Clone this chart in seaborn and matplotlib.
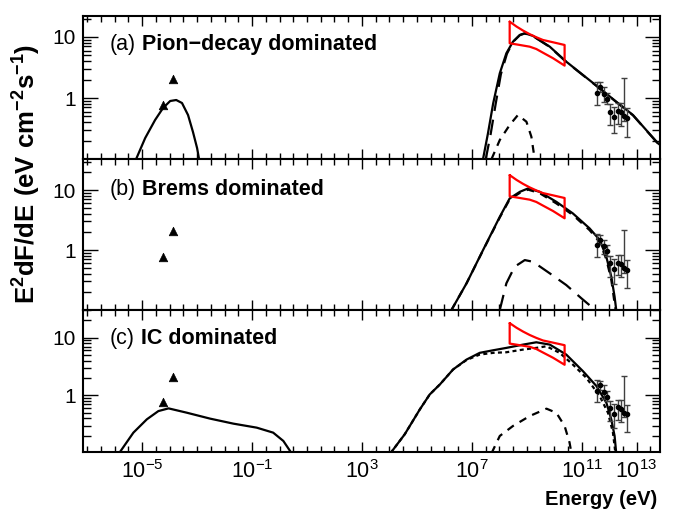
import numpy as np
import pandas as pd
import matplotlib
matplotlib.use("Agg")
import matplotlib.pyplot as plt
import matplotlib.ticker as mticker
import seaborn as sns

# values: log10(E/eV) and E^2 dF/dE (eV cm^-2 s^-1)

# radio points (triangles), same in every panel
radio_logE = [-4.23, -3.86]
radio_F = [0.77, 2.05]

# Fermi-LAT bowtie
lat_up_logE = [8.38, 8.63, 8.87, 9.11, 9.35, 9.59, 9.96, 10.38]
lat_up_F = [17.8, 14.8, 12.7, 11.1, 9.89, 8.93, 8.18, 7.39]
lat_lo_logE = [8.38, 8.75, 9.11, 9.35, 9.59, 9.96, 10.38]
lat_lo_F = [7.88, 7.39, 6.93, 6.35, 5.53, 4.48, 3.39]

# TeV points with error bars
tev_logE = [11.57, 11.68, 11.81, 11.93, 12.04, 12.17, 12.32, 12.42, 12.54, 12.66]
tev_F = [1.2, 1.5, 1.15, 0.95, 0.6, 0.48, 0.62, 0.58, 0.5, 0.47]
tev_lo = [0.78, 1.25, 0.87, 0.8, 0.36, 0.27, 0.38, 0.35, 0.42, 0.23]
tev_hi = [1.85, 1.8, 1.5, 1.2, 0.8, 0.72, 0.82, 0.82, 2.15, 0.68]

# (a) pion-decay dominated
sync_a_logE = [-5.22, -4.89, -4.53, -4.24, -3.98, -3.76, -3.55, -3.33, -3.15, -3.00, -2.93]
sync_a_F = [0.1, 0.221, 0.436, 0.686, 0.893, 0.927, 0.828, 0.526, 0.277, 0.151, 0.1]
tot_a_logE = [7.41, 7.59, 7.78, 8.02, 8.26, 8.50, 8.75, 8.93, 9.23, 9.84, 10.44, 11.05,
              11.66, 12.26, 12.87, 13.35, 13.78, 13.9]
tot_a_F = [0.1, 0.264, 0.819, 2.54, 5.41, 8.37, 10.8, 11.5, 10.4, 6.93, 3.94, 2.38,
           1.44, 0.87, 0.526, 0.299, 0.181, 0.165]
pion_a_logE = [7.51, 7.69, 7.87, 8.06, 8.28, 8.50, 8.75, 8.93, 9.23, 9.84, 10.44, 11.05,
               11.66, 12.26, 12.87, 13.35, 13.78, 13.9]
pion_a_F = [0.1, 0.26, 0.8, 2.45, 5.3, 8.3, 10.7, 11.4, 10.3, 6.85, 3.9, 2.36,
            1.43, 0.86, 0.52, 0.296, 0.179, 0.16]
brems_a_logE = [7.72, 8.02, 8.38, 8.68, 8.99, 9.17, 9.29]
brems_a_F = [0.1, 0.205, 0.361, 0.526, 0.409, 0.232, 0.1]

# (b) bremsstrahlung dominated
tot_b_logE = [6.26, 6.81, 7.41, 8.02, 8.38, 8.75, 9.05, 9.47, 10.08, 10.68, 11.29, 11.66,
              11.90, 12.08, 12.20, 12.26]
tot_b_F = [0.1, 0.279, 1.0, 3.59, 7.27, 9.37, 10.67, 9.37, 6.38, 4.09, 2.30, 1.47,
           0.77, 0.36, 0.167, 0.1]
brems_b_logE = [6.26, 6.81, 7.41, 8.02, 8.38, 8.75, 9.05, 9.47, 10.08, 10.68, 11.29, 11.66,
                11.90, 12.08, 12.18, 12.24]
brems_b_F = [0.1, 0.279, 0.99, 3.5, 7.0, 9.0, 10.2, 8.9, 6.0, 3.85, 2.15, 1.35,
             0.70, 0.32, 0.15, 0.1]
pion_b_logE = [8.02, 8.26, 8.56, 8.93, 9.23, 9.84, 10.44, 10.99, 11.35, 11.45]
pion_b_F = [0.1, 0.279, 0.527, 0.681, 0.638, 0.409, 0.261, 0.157, 0.114, 0.1]

# (c) IC dominated
sync_c_logE = [-5.84, -5.32, -4.83, -4.41, -4.04, -3.38, -2.53, -1.68, -0.83, -0.23, 0.14, 0.44]
sync_c_F = [0.1, 0.227, 0.386, 0.536, 0.597, 0.503, 0.397, 0.325, 0.277, 0.227, 0.163, 0.1]
tot_c_logE = [4.04, 4.56, 5.11, 5.47, 5.84, 6.32, 6.81, 7.29, 7.78, 8.26, 8.87, 9.35, 9.84,
              10.44, 11.05, 11.54, 11.90, 12.08, 12.20, 12.26]
tot_c_F = [0.1, 0.213, 0.574, 1.04, 1.55, 2.81, 4.17, 5.45, 6.04, 6.64, 7.57, 8.3, 7.57,
           5.09, 2.62, 1.45, 0.75, 0.386, 0.199, 0.1]
ic_c_logE = [4.04, 4.56, 5.11, 5.47, 5.84, 6.32, 6.81, 7.29, 7.78, 8.26, 8.87, 9.35, 9.72,
             10.2, 10.68, 11.17, 11.66, 11.96, 12.14, 12.23]
ic_c_F = [0.1, 0.213, 0.574, 1.04, 1.55, 2.81, 4.1, 5.09, 5.45, 5.58, 6.21, 6.64, 7.08,
          5.45, 3.42, 2.02, 0.97, 0.50, 0.227, 0.1]
brems_c_logE = [7.72, 8.02, 8.50, 9.11, 9.72, 10.08, 10.38, 10.56, 10.63]
brems_c_F = [0.1, 0.199, 0.296, 0.44, 0.59, 0.50, 0.296, 0.153, 0.1]

panel_labels = ["(a)", "(b)", "(c)"]
panel_titles = ["Pion\u2212decay dominated", "Brems dominated", "IC dominated"]
xtick_exp = [-5, -1, 3, 7, 11, 13]

sns.set_theme(style="ticks")
plt.rcParams['font.family'] = ['Liberation Sans', 'DejaVu Sans']
plt.rcParams['mathtext.fontset'] = 'custom'
plt.rcParams['mathtext.rm'] = 'Liberation Sans'
plt.rcParams['mathtext.bf'] = 'Liberation Sans:bold'
plt.rcParams['mathtext.default'] = 'regular'
plt.rcParams['text.color'] = 'black'
plt.rcParams['axes.labelcolor'] = 'black'

LONG = (0, (7, 4))
SHORT = (0, (3.5, 3))
DOT = (0, (1.8, 1.5))


def curve(ax, logE, F, ls="-"):
    df = pd.DataFrame({"E": 10.0 ** np.array(logE), "F": F})
    sns.lineplot(data=df, x="E", y="F", ax=ax, color="black", lw=1.6,
                 linestyle=ls, sort=False, estimator=None)


def common(ax):
    up = pd.DataFrame({"E": 10.0 ** np.array(lat_up_logE), "F": lat_up_F})
    lo = pd.DataFrame({"E": 10.0 ** np.array(lat_lo_logE), "F": lat_lo_F})
    bx = np.concatenate([up["E"], lo["E"][::-1], up["E"][:1]])
    by = np.concatenate([up["F"], lo["F"][::-1], up["F"][:1]])
    ax.plot(bx, by, color="red", lw=1.6, zorder=4)

    rad = pd.DataFrame({"E": 10.0 ** np.array(radio_logE), "F": radio_F})
    sns.scatterplot(data=rad, x="E", y="F", ax=ax, marker="^", color="black",
                    s=38, edgecolor="black", zorder=5)

    tE = 10.0 ** np.array(tev_logE)
    tF = np.array(tev_F)
    err = [tF - np.array(tev_lo), np.array(tev_hi) - tF]
    ax.errorbar(tE, tF, yerr=err, fmt="o", ms=3, color="black", ecolor="0.25",
                elinewidth=1, capsize=2, capthick=1, zorder=5)


fig = plt.figure(figsize=(6.83, 5.18), dpi=100)
gs = fig.add_gridspec(3, 1, height_ratios=[143, 151, 142], left=0.1215, right=0.966,
                      top=0.969, bottom=0.1274, hspace=0)
axes = [fig.add_subplot(gs[i]) for i in range(3)]
ylims = [(0.1, 22), (0.1, 33), (0.105, 30)]

for i, ax in enumerate(axes):
    ax.set_xscale("log")
    ax.set_yscale("log")

curve(axes[0], sync_a_logE, sync_a_F)
curve(axes[0], pion_a_logE, pion_a_F, LONG)
curve(axes[0], tot_a_logE, tot_a_F)
curve(axes[0], brems_a_logE, brems_a_F, SHORT)

curve(axes[1], tot_b_logE, tot_b_F)
curve(axes[1], brems_b_logE, brems_b_F, SHORT)
curve(axes[1], pion_b_logE, pion_b_F, LONG)

curve(axes[2], sync_c_logE, sync_c_F)
curve(axes[2], tot_c_logE, tot_c_F)
curve(axes[2], ic_c_logE, ic_c_F, DOT)
curve(axes[2], brems_c_logE, brems_c_F, SHORT)

for i, ax in enumerate(axes):
    common(ax)
    ax.set_xlim(7e-8, 7e13)
    ax.set_ylim(*ylims[i])
    ax.set_xlabel("")
    ax.set_ylabel("")
    ax.xaxis.set_major_locator(mticker.FixedLocator([10.0 ** e for e in xtick_exp]))
    ax.xaxis.set_minor_locator(mticker.FixedLocator(10.0 ** np.arange(-7, 14, 0.5)))
    ax.xaxis.set_minor_formatter(mticker.NullFormatter())
    if i == 2:
        ax.set_xticklabels([r"$10^{%d}$" % e for e in xtick_exp], fontsize=15.5)
    else:
        ax.set_xticklabels([])
    ax.set_yticks([1, 10])
    ax.set_yticklabels(["1", "10"], fontsize=15)
    ax.yaxis.set_minor_locator(mticker.LogLocator(base=10, subs=np.arange(2, 10)))
    ax.yaxis.set_minor_formatter(mticker.NullFormatter())
    ax.tick_params(which="both", direction="in", top=True, right=True, width=1,
                   colors="black", labelcolor="black")
    ax.tick_params(axis="x", which="major", length=7, pad=6)
    ax.tick_params(axis="x", which="minor", length=4)
    ax.tick_params(axis="y", which="major", length=11, pad=5)
    ax.tick_params(axis="y", which="minor", length=6)
    for sp in ax.spines.values():
        sp.set_linewidth(1.5)
        sp.set_color("black")
    ax.grid(False)

    t = ax.text(0.047, 0.8, panel_labels[i], transform=ax.transAxes, fontsize=15.5,
                va="center", ha="left", color="black")
    ax.annotate(panel_titles[i], xy=(1, 0.5), xycoords=t, xytext=(4, 0),
                textcoords="offset points", fontsize=15.5, fontweight="bold",
                va="center", ha="left", color="black")

fig.text(0.04, 0.665, r"$\mathbf{E^{2}dF/dE\ (eV\ cm^{-2}s^{-1})}$", rotation=90,
         ha="center", va="center", fontsize=18.5, color="black")
fig.text(0.963, 0.035, "Energy (eV)", ha="right", va="center", fontsize=14.5,
         fontweight="bold", color="black")

fig.savefig("out.png", dpi=100)
